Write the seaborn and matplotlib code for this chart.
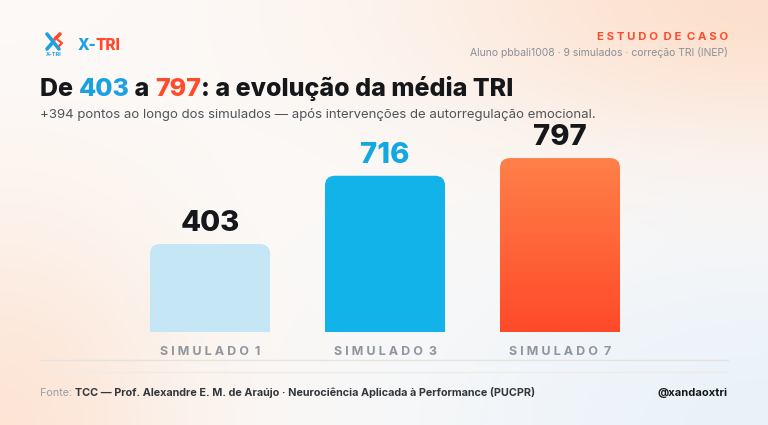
import numpy as np
import pandas as pd
import seaborn as sns
import matplotlib.pyplot as plt
from matplotlib.patches import FancyBboxPatch
from matplotlib.lines import Line2D

# data
simulados = ["SIMULADO 1", "SIMULADO 3", "SIMULADO 7"]
medias = [403, 716, 797]
bar_colors = ["#C4E6F5", "#12B3E8", "#FF6A3D"]
label_colors = ["#15171A", "#12A8E0", "#15171A"]

df = pd.DataFrame({"simulado": simulados, "media": medias})

sns.set_theme(style="white")
plt.rcParams["font.family"] = ["Inter", "DejaVu Sans"]

W, H = 768, 425
fig = plt.figure(figsize=(W / 100, H / 100), dpi=100)

# soft background gradient
bg = fig.add_axes([0, 0, 1, 1], zorder=-10)
yy, xx = np.mgrid[0:1:H * 1j, 0:1:W * 1j]
base = np.array([252, 250, 248]) / 255
peach = np.array([253, 224, 205]) / 255
blue = np.array([234, 242, 250]) / 255
w_tr = np.exp(-(((xx - 1.0) / 0.45) ** 2 + (yy / 0.35) ** 2))
w_bl = np.exp(-((xx / 0.25) ** 2 + ((yy - 1.0) / 0.5) ** 2)) * 0.8
w_br = np.exp(-(((xx - 1.0) / 0.45) ** 2 + ((yy - 1.0) / 0.45) ** 2))
img = base[None, None, :] * np.ones((H, W, 1))
for w, c in [(w_tr, peach), (w_bl, peach), (w_br, blue)]:
    img = img * (1 - w[..., None]) + c[None, None, :] * w[..., None]
bg.imshow(img, aspect="auto", extent=[0, 1, 1, 0])
bg.axis("off")


def fx(px):
    return px / W


def fy(py):
    return 1 - py / H


def spaced(s):
    return "  ".join(" ".join(list(word)) for word in s.split(" "))


# main bars
YMAX = 889
ax = fig.add_axes([fx(122.5), fy(332), fx(525), 194 / H])
ax.patch.set_alpha(0)
sns.barplot(data=df, x="simulado", y="media", hue="simulado", palette=bar_colors,
            legend=False, width=0.686, ax=ax, saturation=1)
sns.despine(ax=ax, left=True, bottom=True)
ax.set_yticks([])
ax.set_xlabel("")
ax.set_ylabel("")
ax.set_xticks(range(len(simulados)))
ax.set_xticklabels([spaced(s) for s in simulados], fontsize=9, fontweight="bold",
                   color="#8E959E")
ax.tick_params(axis="x", length=0, pad=10)

rx = 10 / 175
ry = 10 * YMAX / 194
for i, p in enumerate(list(ax.patches)):
    x, w, h = p.get_x(), p.get_width(), p.get_height()
    col = p.get_facecolor()
    p.remove()
    fb = FancyBboxPatch((x, -ry * 2), w, h + ry * 2,
                        boxstyle=f"round,pad=0,rounding_size={rx}",
                        mutation_aspect=ry / rx, facecolor=col, edgecolor="none")
    ax.add_patch(fb)
    if i == 2:
        fb.set_facecolor("none")
        grad = np.linspace(0, 1, 256)[:, None]
        top = np.array([255, 128, 72]) / 255
        bot = np.array([255, 74, 42]) / 255
        gimg = top[None, None, :] * (1 - grad[..., None]) + bot[None, None, :] * grad[..., None]
        gimg = np.repeat(gimg, 2, axis=1)
        im = ax.imshow(gimg, extent=[x, x + w, 0, h], aspect="auto", origin="upper")
        im.set_clip_path(fb)
    ax.annotate(str(medias[i]), (x + w / 2, h), xytext=(0, 5), textcoords="offset points",
                ha="center", va="bottom", fontsize=21, fontweight="heavy",
                color=label_colors[i])
ax.set_xlim(-0.5, 2.5)
ax.set_ylim(0, YMAX)

# separator lines
fig.add_artist(Line2D([fx(40), fx(728)], [fy(360), fy(360)], color="#E6E2DE", lw=1))
fig.add_artist(Line2D([fx(40), fx(728)], [fy(372), fy(372)], color="#EFEBE7", lw=1))

# logo
fig.add_artist(Line2D([fx(47), fx(59)], [fy(34), fy(49)], color="#1BA1E2", lw=2.6,
                      solid_capstyle="round"))
fig.add_artist(Line2D([fx(47), fx(53)], [fy(49), fy(42)], color="#1BA1E2", lw=2.6,
                      solid_capstyle="round"))
fig.add_artist(Line2D([fx(55), fx(60)], [fy(39), fy(34)], color="#FF4B2B", lw=2.6,
                      solid_capstyle="round"))
fig.add_artist(Line2D([fx(58), fx(62), fx(59)], [fy(40), fy(43), fy(46)], color="#FF4B2B",
                      lw=1.6))
fig.text(fx(54), fy(55), "X-TRI", fontsize=4, fontweight="bold", color="#1BA1E2",
         ha="center", va="center")
t = fig.text(fx(78), fy(46), "X-", fontsize=11, fontweight="heavy", color="#1BA1E2",
             va="center")
ax.annotate("TRI", xy=(1, 0.5), xycoords=t, xytext=(-1, 0), textcoords="offset points",
            va="center", ha="left", fontsize=11, fontweight="heavy", color="#FF4B2B",
            annotation_clip=False)

# top right
fig.text(fx(728), fy(37), spaced("ESTUDO DE CASO"), ha="right", va="center", fontsize=8.2,
         fontweight="bold", color="#FF4B2B")
fig.text(fx(728), fy(53), "Aluno pbbali1008 · 9 simulados · correção TRI (INEP)", ha="right",
         va="center", fontsize=7.5, color="#8A8F98")

# title in pieces
parts = [("De ", "#15171A"), ("403", "#1BA1E2"), (" a ", "#15171A"), ("797", "#FF4B2B"),
         (": a evolução da média TRI", "#15171A")]
prev = fig.text(fx(40), fy(96), parts[0][0], fontsize=18, fontweight="heavy",
                color=parts[0][1], va="baseline")
for txt, c in parts[1:]:
    prev = ax.annotate(txt, xy=(1, 0), xycoords=prev, va="bottom", ha="left", fontsize=18,
                       fontweight="heavy", color=c, annotation_clip=False)

fig.text(fx(40), fy(115), "+394 pontos ao longo dos simulados — após intervenções de "
         "autorregulação emocional.", fontsize=9.5, color="#50545A", va="center")

# footer
f1 = fig.text(fx(40), fy(393), "Fonte: ", fontsize=7.8, color="#9AA0A8", va="center")
ax.annotate("TCC — Prof. Alexandre E. M. de Araújo · Neurociência Aplicada à Performance (PUCPR)",
            xy=(1, 0), xycoords=f1, va="bottom", ha="left", fontsize=7.8, fontweight="bold",
            color="#33363B", annotation_clip=False)
fig.text(fx(728), fy(393), "@xandaoxtri", ha="right", va="center", fontsize=8,
         fontweight="bold", color="#15171A")

fig.savefig("out.png", dpi=100)
